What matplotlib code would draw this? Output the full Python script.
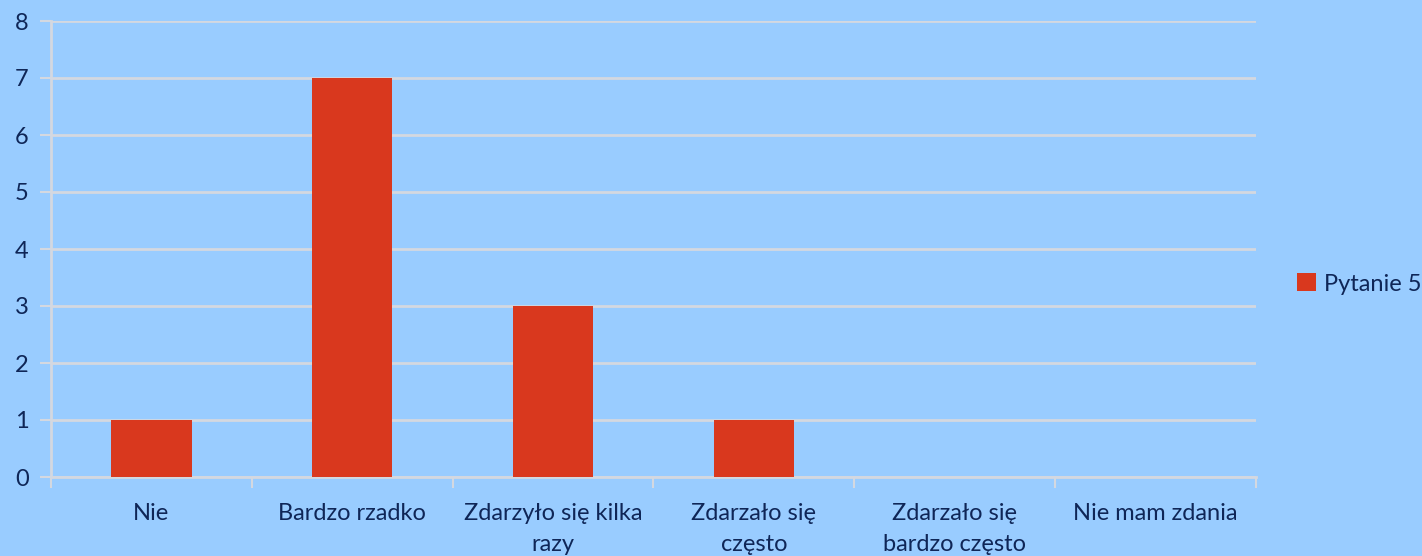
import matplotlib
matplotlib.use("Agg")
import matplotlib.pyplot as plt
from matplotlib.patches import Patch

categories = ["Nie", "Bardzo rzadko", "Zdarzyło się kilka\nrazy", "Zdarzało się\nczęsto",
              "Zdarzało się\nbardzo często", "Nie mam zdania"]
values = [1, 7, 3, 1, 0, 0]
series_name = "Pytanie 5"
yticks = [0, 1, 2, 3, 4, 5, 6, 7, 8]

bg = "#99ccff"
bar_color = "#d9381e"
text_color = "#0f2657"
grid_color = "#d4d8e0"

plt.rcParams['font.family'] = ['Lato', 'DejaVu Sans']
fs = 17

fig = plt.figure(figsize=(14.22, 5.56), dpi=100, facecolor=bg)
ax = fig.add_axes([51/1422, 1 - 477/556, (1256 - 51)/1422, (477 - 21)/556])
ax.set_facecolor(bg)

x = list(range(len(categories)))
ax.bar(x, values, width=0.4, color=bar_color, zorder=3)

ax.set_xlim(-0.5, len(categories) - 0.5)
ax.set_ylim(0, 8)
ax.set_yticks(yticks)
ax.set_yticklabels([str(v) for v in yticks], fontsize=fs, color=text_color)
ax.yaxis.grid(True, color=grid_color, linewidth=2, zorder=0)
ax.set_axisbelow(True)

ax.set_xticks([i - 0.5 for i in range(len(categories) + 1)])
ax.set_xticklabels([])
ax.set_xticks(x, minor=True)
ax.set_xticklabels(categories, minor=True, fontsize=fs, color=text_color, linespacing=1.55, va='top')
ax.tick_params(axis='x', which='minor', length=0, pad=19)
ax.tick_params(axis='x', which='major', length=8, width=1.5, color=grid_color)
ax.tick_params(axis='y', length=8, width=1.5, color=grid_color, pad=8)

for s in ['top', 'right']:
    ax.spines[s].set_visible(False)
for s in ['left', 'bottom']:
    ax.spines[s].set_color(grid_color)
    ax.spines[s].set_linewidth(2)

handles = [Patch(facecolor=bar_color, label=series_name)]
fig.legend(handles=handles, loc='center left', bbox_to_anchor=(1297/1422, 1 - 284/556),
           frameon=False, fontsize=fs, labelcolor=text_color, handlelength=0.8,
           handleheight=0.8, handletextpad=0.35, borderpad=0, borderaxespad=0)

fig.savefig("out.png", dpi=100, facecolor=bg)
